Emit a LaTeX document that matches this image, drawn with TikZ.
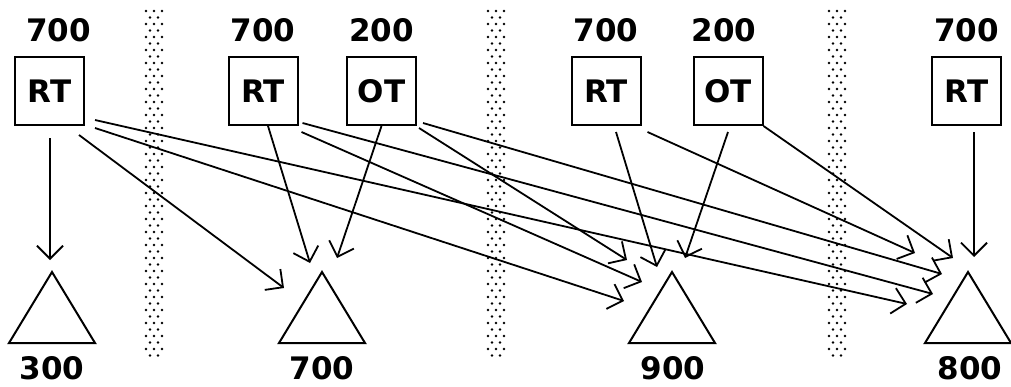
\documentclass[tikz,border=0pt]{standalone}
\usepackage{fontspec}
\setmainfont{DejaVu Sans}
\usetikzlibrary{arrows.meta,calc,positioning}

\begin{document}
\begin{tikzpicture}[x=1pt, y=-1pt,
	every node/.style={font=\fontsize{31}{31}\selectfont\bfseries},
	box/.style={draw, line width=2pt, minimum width=69pt, minimum height=68pt, inner sep=0pt},
	num/.style={inner sep=0pt},
	tri/.style={line width=2pt, line join=miter},
	arr/.style={line width=1.8pt, -{Straight Barb[length=13pt, width=26pt, line width=1.8pt]}}]
	\useasboundingbox (0,0) rectangle (1011,386);
	% dotted separators
	\foreach \bx in {145,487,828} {
		\foreach \k in {0,...,26} {
			\foreach \dx in {1,9,17} {\fill (\bx+\dx, 11+13*\k) circle (1.3pt);}
			\foreach \dx in {5,13} {\fill (\bx+\dx, 17.5+13*\k) circle (1.3pt);}
		}
	}
	% top row
	\node[box] (rt1) at (49.5,91) {RT};
	\node[box] (rt2) at (263,91) {RT};
	\node[box] (ot1) at (381.5,91) {OT};
	\node[box] (rt3) at (606,91) {RT};
	\node[box] (ot2) at (728,91) {OT};
	\node[box] (rt4) at (966.5,91) {RT};
	\node[num, above=14pt of rt1, xshift=9pt] (w1) {700};
	\node[num, above=14pt of rt2] (w2) {700};
	\node[num, above=14pt of ot1] (w3) {200};
	\node[num, above=14pt of rt3] (w4) {700};
	\node[num, above=14pt of ot2, xshift=-4pt] (w5) {200};
	\node[num, above=14pt of rt4] (w6) {700};
	% bottom row
	\coordinate (tp1) at (52,272);
	\coordinate (tp2) at (322,272);
	\coordinate (tp3) at (672,272);
	\coordinate (tp4) at (968,272);
	\foreach \t in {tp1,tp2,tp3,tp4} {\draw[tri] (\t) -- ++(43,71) -- ++(-86,0) -- cycle;}
	\node[num] (s1) at (52,368) {300};
	\node[num] (s2) at (322,368) {700};
	\node[num] (s3) at (673,368) {900};
	\node[num] (s4) at (970,368) {800};
	% arrow ends
	\coordinate (in1) at (50,260);
	\coordinate (in2a) at (284,288);
	\coordinate (in2b) at (310,263);
	\coordinate (in2c) at (337,258);
	\coordinate (in3a) at (624,301);
	\coordinate (in3b) at (642,282);
	\coordinate (in3c) at (627,260);
	\coordinate (in3d) at (657,267);
	\coordinate (in3e) at (685,258);
	\coordinate (in4a) at (907,304);
	\coordinate (in4b) at (933,294);
	\coordinate (in4c) at (942,274);
	\coordinate (in4d) at (915,253);
	\coordinate (in4e) at (953,258);
	\coordinate (in4f) at (974,257);
	% connectors
	\draw[arr] ($(rt1.south)+(0.5,12)$) -- (in1);
	\draw[arr] ($(rt1.south east)+(-6,9)$) -- (in2a);
	\draw[arr] ($(rt1.east)+(10,37)$) -- (in3a);
	\draw[arr] ($(rt1.east)+(10,29)$) -- (in4a);
	\draw[arr] ($(rt2.south)+(5,0)$) -- (in2b);
	\draw[arr] ($(rt2.east)+(3,41)$) -- (in3b);
	\draw[arr] ($(rt2.east)+(4,32)$) -- (in4b);
	\draw[arr] (ot1.south) -- (in2c);
	\draw[arr] ($(ot1.east)+(2,37)$) -- (in3c);
	\draw[arr] ($(ot1.east)+(6,32)$) -- (in4c);
	\draw[arr] ($(rt3.south)+(10,6)$) -- (in3d);
	\draw[arr] ($(rt3.south east)+(6,6)$) -- (in4d);
	\draw[arr] ($(ot2.south)+(0,6)$) -- (in3e);
	\draw[arr] (ot2.south east) -- (in4e);
	\draw[arr] ($(rt4.south)+(7.5,6)$) -- (in4f);
\end{tikzpicture}
\end{document}
